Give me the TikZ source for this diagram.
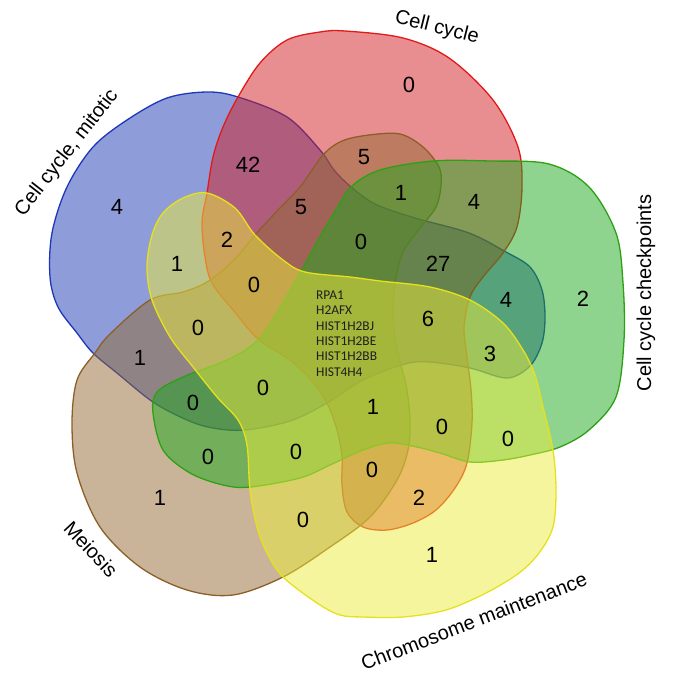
\documentclass[tikz,border=0pt]{standalone}
\usepackage{fontspec}
\setmainfont{Liberation Sans}
\newfontfamily\genefont{Carlito}
\definecolor{cbluef}{RGB}{30,60,180}
\definecolor{cbluel}{RGB}{30,55,185}
\definecolor{credf}{RGB}{210,30,35}
\definecolor{credl}{RGB}{225,25,25}
\definecolor{cgreenf}{RGB}{30,168,30}
\definecolor{cgreenl}{RGB}{45,160,20}
\definecolor{cyellowf}{RGB}{235,235,60}
\definecolor{cyellowl}{RGB}{230,225,30}
\definecolor{cbrownf}{RGB}{148,106,52}
\definecolor{cbrownl}{RGB}{140,95,40}
\definecolor{cgene}{RGB}{30,30,30}
\begin{document}
\begin{tikzpicture}[x=1pt,y=-1pt,
  vset/.style={line width=1.3pt, fill opacity=0.5, draw opacity=1},
  num/.style={font=\fontsize{22}{24}\selectfont, inner sep=0pt, text=black},
  lab/.style={font=\fontsize{20}{22}\selectfont, inner sep=0pt, text=black},
  gene/.style={font=\genefont\fontsize{13.4}{15}\selectfont, inner sep=0pt, anchor=base west, text=cgene}]
\useasboundingbox (0,0) rectangle (676,682);

% Cell cycle, mitotic (blue)
\draw[vset, draw=cbluel, fill=cbluef] plot[smooth cycle, tension=0.55] coordinates {
(207,92) (238,97) (287,117) (320,150) (334,170) (350,186) (375,204) (415,218) (469,233) (506,252) (530,267) (542,290) (545,317) (542,343) (530,366) (507,378) (470,368) (430,362) (405,364) (363,380) (327,403) (290,421) (245,430) (213,428) (187,420) (153,402) (117,373) (93,353) (77,333) (58,307) (50,277) (52,233) (67,187) (93,147) (127,120) (167,98)};

% Cell cycle (red)
\draw[vset, draw=credl, fill=credf] plot[smooth cycle, tension=0.55] coordinates {
(207,193) (213,157) (223,127) (238,97) (260,63) (287,40) (320,32) (345,31) (403,38) (449,58) (493,100) (518,147) (522,187) (517,227) (503,253) (483,277) (470,297) (464,327) (467,357) (471,390) (472,423) (467,463) (455,488) (436,510) (413,523) (387,530) (363,527) (347,512) (342,485) (342,457) (337,430) (327,403) (311,380) (290,360) (258,339) (233,310) (212,283) (205,257) (202,222)};

% Meiosis (brown)
\draw[vset, draw=cbrownl, fill=cbrownf] plot[smooth cycle, tension=0.55] coordinates {
(342,141) (369,135) (400,134) (423,147) (439,167) (441,185) (436,207) (420,228) (403,252) (395,283) (393,317) (397,350) (406,385) (410,420) (408,450) (397,480) (370,517) (330,547) (283,577) (233,595) (187,590) (140,567) (100,527) (77,473) (72,423) (77,380) (95,353) (110,334) (150,300) (183,292) (207,282) (232,262) (255,235) (278,210) (300,187) (323,155)};

% Cell cycle checkpoints (green)
\draw[vset, draw=cgreenl, fill=cgreenf] plot[smooth cycle, tension=0.55] coordinates {
(352,186) (380,170) (433,161) (490,161) (549,164) (589,187) (616,233) (623,283) (624,340) (616,397) (589,430) (560,447) (530,455) (503,460) (470,462) (440,453) (417,447) (390,443) (363,450) (330,465) (300,478) (250,487) (223,485) (190,473) (163,450) (153,413) (157,392) (183,377) (227,360) (258,340) (283,303) (300,273) (320,237) (337,208)};

% Chromosome maintenance (yellow)
\draw[vset, draw=cyellowl, fill=cyellowf] plot[smooth cycle, tension=0.55] coordinates {
(147,267) (152,235) (163,213) (183,198) (207,193) (235,208) (255,235) (283,260) (305,272) (350,277) (380,281) (430,287) (470,300) (503,323) (523,350) (535,375) (543,407) (553,450) (556,490) (553,527) (539,553) (519,573) (486,593) (446,610) (403,617) (363,617) (340,615) (317,603) (283,577) (267,553) (257,527) (250,490) (247,445) (238,420) (217,397) (193,367) (170,337) (152,300)};

% labels
\node[lab, rotate=-14] (lcc) at (437,28) {Cell cycle};
\node[lab, rotate=90] (lchk) at (646,293) {Cell cycle checkpoints};
\node[lab, rotate=21] (lcm) at (474,621) {Chromosome maintenance};
\node[lab, rotate=-47] (lmei) at (91,549) {Meiosis};
\node[lab, rotate=52] (lmit) at (67,153) {Cell cycle, mitotic};

% counts
\node[num] (n01) at (409,85) {0};
\node[num] (n02) at (248,165) {42};
\node[num] (n03) at (117,207) {4};
\node[num] (n04) at (364,157) {5};
\node[num] (n05) at (401,193) {1};
\node[num] (n06) at (474,202) {4};
\node[num] (n07) at (301,207) {5};
\node[num] (n08) at (227,240) {2};
\node[num] (n09) at (361,242) {0};
\node[num] (n10) at (438,264) {27};
\node[num] (n11) at (177,264) {1};
\node[num] (n12) at (254,285) {0};
\node[num] (n13) at (506,300) {4};
\node[num] (n14) at (583,299) {2};
\node[num] (n15) at (428,319) {6};
\node[num] (n16) at (490,354) {3};
\node[num] (n17) at (198,328) {0};
\node[num] (n18) at (140,358) {1};
\node[num] (n19) at (263,388) {0};
\node[num] (n20) at (373,407) {1};
\node[num] (n21) at (193,403) {0};
\node[num] (n22) at (442,427) {0};
\node[num] (n23) at (508,439) {0};
\node[num] (n24) at (208,457) {0};
\node[num] (n25) at (296,452) {0};
\node[num] (n26) at (372,470) {0};
\node[num] (n27) at (419,498) {2};
\node[num] (n28) at (160,498) {1};
\node[num] (n29) at (303,520) {0};
\node[num] (n30) at (432,555) {1};

% genes in the centre
\node[gene] (g1) at (316,299.5) {RPA1};
\node[gene] (g2) at (316,314.8) {H2AFX};
\node[gene] (g3) at (316,330.1) {HIST1H2BJ};
\node[gene] (g4) at (316,345.4) {HIST1H2BE};
\node[gene] (g5) at (316,360.7) {HIST1H2BB};
\node[gene] (g6) at (316,376.0) {HIST4H4};
\end{tikzpicture}
\end{document}
